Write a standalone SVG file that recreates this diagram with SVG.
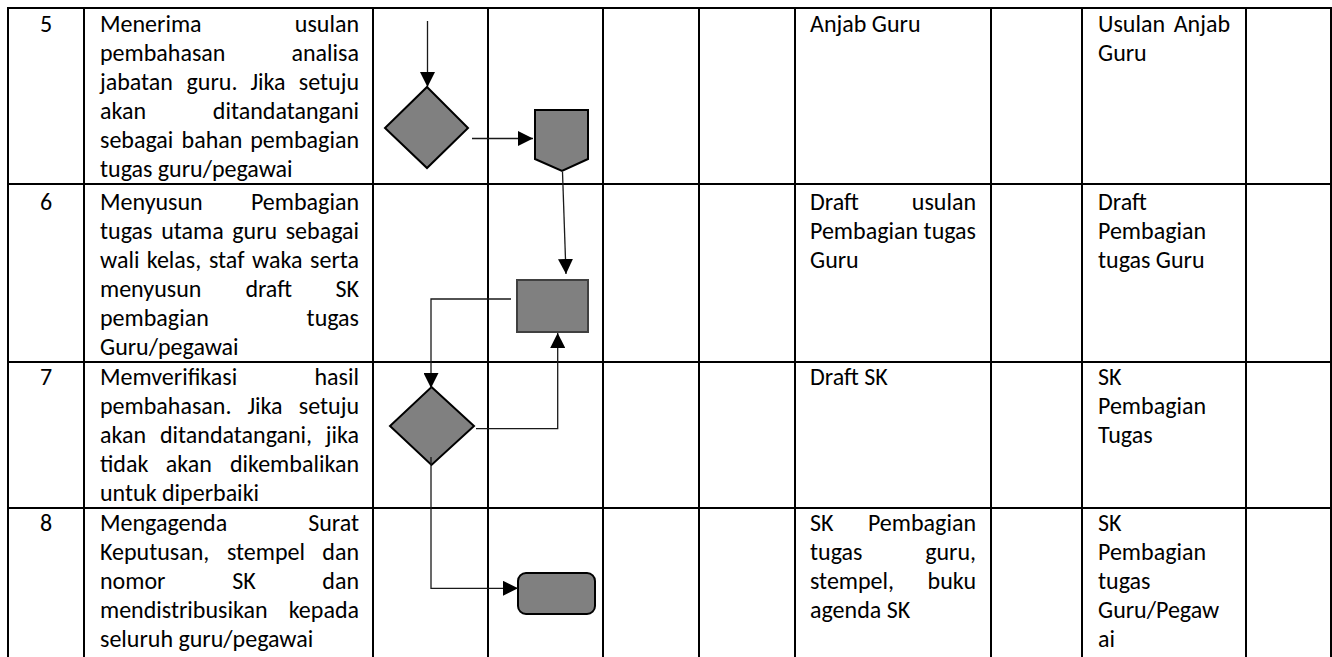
<svg xmlns="http://www.w3.org/2000/svg" width="1332" height="657" viewBox="0 0 1332 657">
<style>
.grid line{stroke:#000;stroke-width:2}
.t{font-family:Carlito,Lato,"Liberation Sans",sans-serif;font-size:24px;fill:#000}
.e{text-anchor:end}
.m{text-anchor:middle}
.shape{fill:#808080;stroke:#000;stroke-width:2}
.conn path{fill:none;stroke:#1a1a1a;stroke-width:1.3}
</style>
<defs>
<marker id="arr" viewBox="0 0 10 10" refX="10" refY="5" markerWidth="15" markerHeight="15" markerUnits="userSpaceOnUse" orient="auto">
<path d="M0,0 L10,5 L0,10 z" fill="#000"/>
</marker>
</defs>
<rect width="1332" height="657" fill="#fff"/>
<g id="table" class="grid">
<line x1="7" y1="8" x2="1332" y2="8"/>
<line x1="7" y1="184" x2="1332" y2="184"/>
<line x1="7" y1="362" x2="1332" y2="362"/>
<line x1="7" y1="508" x2="1332" y2="508"/>
<line x1="8" y1="7" x2="8" y2="657"/>
<line x1="84" y1="7" x2="84" y2="657"/>
<line x1="373" y1="7" x2="373" y2="657"/>
<line x1="488" y1="7" x2="488" y2="657"/>
<line x1="603" y1="7" x2="603" y2="657"/>
<line x1="699" y1="7" x2="699" y2="657"/>
<line x1="795" y1="7" x2="795" y2="657"/>
<line x1="991" y1="7" x2="991" y2="657"/>
<line x1="1082" y1="7" x2="1082" y2="657"/>
<line x1="1246" y1="7" x2="1246" y2="657"/>
<line x1="1331" y1="7" x2="1331" y2="657"/>
</g>
<g id="row5" class="t">
<text x="46" y="32" class="m">5</text>
<text x="100" y="32">Menerima</text><text x="359" y="32" class="e">usulan</text>
<text x="100" y="61">pembahasan</text><text x="359" y="61" class="e">analisa</text>
<text x="100" y="90">jabatan</text><text x="212" y="90" class="m">guru.</text><text x="268" y="90" class="m">Jika</text><text x="359" y="90" class="e">setuju</text>
<text x="100" y="119">akan</text><text x="359" y="119" class="e">ditandatangani</text>
<text x="100" y="148">sebagai</text><text x="212" y="148" class="m">bahan</text><text x="359" y="148" class="e">pembagian</text>
<text x="100" y="177">tugas guru/pegawai</text>
<text x="810" y="32">Anjab Guru</text>
<text x="1098" y="32">Usulan</text><text x="1230" y="32" class="e">Anjab</text>
<text x="1098" y="61">Guru</text>
</g>
<g id="row6" class="t">
<text x="46" y="210" class="m">6</text>
<text x="100" y="210">Menyusun</text><text x="359" y="210" class="e">Pembagian</text>
<text x="100" y="239">tugas</text><text x="192.5" y="239" class="m">utama</text><text x="254.7" y="239" class="m">guru</text><text x="359" y="239" class="e">sebagai</text>
<text x="100" y="268">wali</text><text x="174" y="268" class="m">kelas,</text><text x="226.7" y="268" class="m">staf</text><text x="277.2" y="268" class="m">waka</text><text x="359" y="268" class="e">serta</text>
<text x="100" y="297">menyusun</text><text x="268.7" y="297" class="m">draft</text><text x="359" y="297" class="e">SK</text>
<text x="100" y="326">pembagian</text><text x="359" y="326" class="e">tugas</text>
<text x="100" y="355">Guru/pegawai</text>
<text x="810" y="210">Draft</text><text x="976" y="210" class="e">usulan</text>
<text x="810" y="239">Pembagian</text><text x="976" y="239" class="e">tugas</text>
<text x="810" y="268">Guru</text>
<text x="1098" y="210">Draft</text>
<text x="1098" y="239">Pembagian</text>
<text x="1098" y="268">tugas Guru</text>
</g>
<g id="row7" class="t">
<text x="46" y="385" class="m">7</text>
<text x="100" y="385">Memverifikasi</text><text x="359" y="385" class="e">hasil</text>
<text x="100" y="414">pembahasan.</text><text x="265" y="414" class="m">Jika</text><text x="359" y="414" class="e">setuju</text>
<text x="100" y="443">akan</text><text x="236" y="443" class="m">ditandatangani,</text><text x="359" y="443" class="e">jika</text>
<text x="100" y="472">tidak</text><text x="188.7" y="472" class="m">akan</text><text x="359" y="472" class="e">dikembalikan</text>
<text x="100" y="501">untuk diperbaiki</text>
<text x="810" y="385">Draft SK</text>
<text x="1098" y="385">SK</text>
<text x="1098" y="414">Pembagian</text>
<text x="1098" y="443">Tugas</text>
</g>
<g id="row8" class="t">
<text x="46" y="531" class="m">8</text>
<text x="100" y="531">Mengagenda</text><text x="359" y="531" class="e">Surat</text>
<text x="100" y="560">Keputusan,</text><text x="266" y="560" class="m">stempel</text><text x="359" y="560" class="e">dan</text>
<text x="100" y="589">nomor</text><text x="244" y="589" class="m">SK</text><text x="359" y="589" class="e">dan</text>
<text x="100" y="618">mendistribusikan</text><text x="359" y="618" class="e">kepada</text>
<text x="100" y="647">seluruh guru/pegawai</text>
<text x="810" y="531">SK</text><text x="976" y="531" class="e">Pembagian</text>
<text x="810" y="560">tugas</text><text x="976" y="560" class="e">guru,</text>
<text x="810" y="589">stempel,</text><text x="976" y="589" class="e">buku</text>
<text x="810" y="618">agenda SK</text>
<text x="1098" y="531">SK</text>
<text x="1098" y="560">Pembagian</text>
<text x="1098" y="589">tugas</text>
<text x="1098" y="618">Guru/Pegaw</text>
<text x="1098" y="647">ai</text>
</g>
<g id="decision5"><polygon class="shape" points="427,87 468,128 427,168 385,128"/></g>
<g id="offpage5"><polygon class="shape" points="535,110 588,110 588,159 562,171 535,159"/></g>
<g id="process6"><rect class="shape" x="517" y="280" width="71" height="52" style="stroke:#404040"/></g>
<g id="decision7"><polygon class="shape" points="431.5,387 474,426 431.5,465 390,426"/></g>
<g id="terminator8"><rect class="shape" x="518" y="573" width="77" height="41" rx="8"/></g>
<g id="connectors" class="conn">
<path d="M427.5,21 V87" marker-end="url(#arr)"/>
<path d="M472,138.5 H533" marker-end="url(#arr)"/>
<path d="M562.5,172 L566,274" marker-end="url(#arr)"/>
<path d="M511,299 H431 V388" marker-end="url(#arr)"/>
<path d="M476,428.7 H557.7 V333" marker-end="url(#arr)"/>
<path d="M431,457 V588.3 H518" marker-end="url(#arr)"/>
</g>
</svg>
